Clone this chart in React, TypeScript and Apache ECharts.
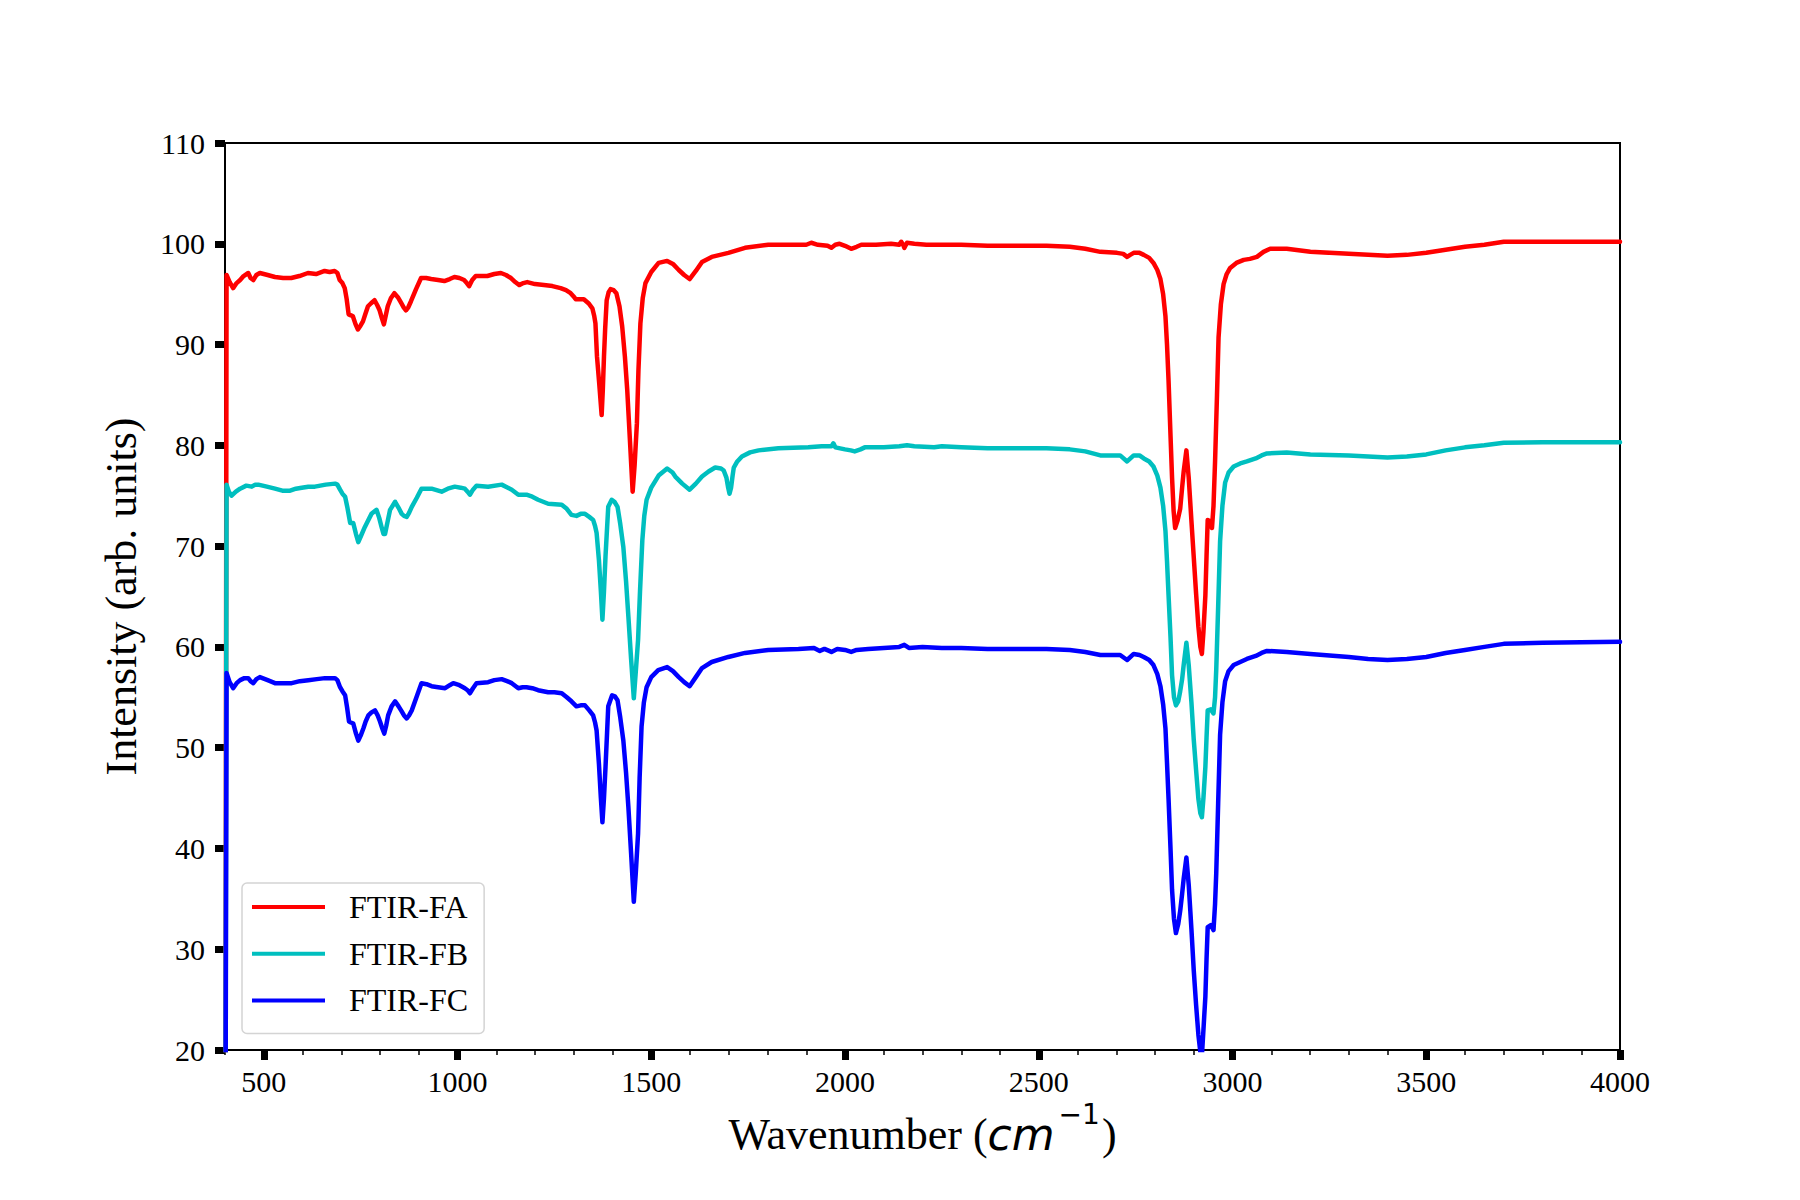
import React, { useEffect, useRef } from "react";
import * as echarts from "echarts";

// FTIR spectra: [wavenumber (cm-1), intensity]
const faPoints: number[][] = [
  [401, 5], [404, 96.9], [412, 96.2], [421, 95.6], [430, 96.1], [439, 96.4], [448, 96.8], [460, 97.1],
  [466, 96.6], [473, 96.4], [481, 96.9], [490, 97.1], [510, 96.9], [529, 96.7], [550, 96.6], [571, 96.6],
  [592, 96.8], [614, 97.1], [635, 97.0], [657, 97.3], [670, 97.2], [683, 97.3], [690, 97.1], [696, 96.4],
  [703, 96.1], [709, 95.6], [714, 94.5], [719, 93.0], [725, 92.9], [730, 92.8], [737, 92.0], [743, 91.5],
  [750, 91.9], [756, 92.3], [762, 93.0], [769, 93.8], [777, 94.1], [786, 94.4], [793, 93.9], [799, 93.4],
  [805, 92.6], [810, 92.0], [815, 92.9], [820, 93.8], [828, 94.6], [837, 95.1], [846, 94.7], [855, 94.1],
  [861, 93.7], [867, 93.4], [873, 93.7], [880, 94.3], [893, 95.5], [906, 96.6], [919, 96.6], [932, 96.5],
  [950, 96.4], [966, 96.3], [980, 96.5], [992, 96.7], [1005, 96.6], [1017, 96.4], [1024, 96.1], [1030, 95.8],
  [1038, 96.4], [1047, 96.8], [1062, 96.8], [1077, 96.8], [1095, 97.0], [1112, 97.1], [1125, 96.9], [1138, 96.6],
  [1149, 96.2], [1159, 95.9], [1170, 96.1], [1180, 96.2], [1200, 96.0], [1223, 95.9], [1245, 95.8], [1266, 95.6],
  [1280, 95.4], [1292, 95.1], [1299, 94.8], [1305, 94.5], [1315, 94.5], [1326, 94.5], [1338, 94.1], [1348, 93.6],
  [1353, 92.8], [1356, 92.1], [1360, 88.8], [1366, 86.0], [1372, 83.0], [1375, 85.5], [1378, 88.8], [1381, 91.5],
  [1385, 94.4], [1390, 95.2], [1395, 95.5], [1403, 95.4], [1410, 95.1], [1418, 93.8], [1425, 91.8], [1432, 88.8],
  [1438, 85.5], [1445, 80.5], [1452, 75.4], [1457, 78.0], [1463, 82.2], [1467, 87.5], [1472, 92.1], [1478, 94.6],
  [1485, 96.1], [1500, 97.2], [1519, 98.1], [1541, 98.3], [1556, 98.0], [1571, 97.4], [1585, 96.9], [1599, 96.5],
  [1615, 97.3], [1631, 98.2], [1656, 98.7], [1699, 99.1], [1742, 99.6], [1802, 99.9], [1862, 99.9], [1900, 99.9],
  [1913, 100.1], [1930, 99.9], [1955, 99.8], [1965, 99.6], [1975, 99.9], [1986, 100.0], [2000, 99.8], [2016, 99.5],
  [2030, 99.7], [2042, 99.9], [2080, 99.9], [2119, 100.0], [2140, 99.9], [2145, 100.2], [2150, 99.9], [2153, 99.6],
  [2160, 100.1], [2179, 100.0], [2210, 99.9], [2248, 99.9], [2300, 99.9], [2368, 99.8], [2450, 99.8], [2520, 99.8],
  [2580, 99.7], [2620, 99.5], [2659, 99.2], [2702, 99.1], [2718, 99.0], [2728, 98.7], [2736, 98.9], [2745, 99.1],
  [2760, 99.1], [2771, 98.9], [2785, 98.6], [2796, 98.1], [2806, 97.4], [2814, 96.5], [2821, 95.0], [2827, 92.8],
  [2831, 90.0], [2835, 86.4], [2840, 81.0], [2844, 76.8], [2848, 73.5], [2852, 71.8], [2858, 72.5], [2865, 73.7],
  [2870, 75.8], [2874, 77.4], [2881, 79.5], [2887, 76.8], [2894, 72.5], [2900, 68.9], [2906, 65.3], [2912, 62.0],
  [2917, 60.0], [2921, 59.3], [2925, 61.5], [2930, 65.1], [2933, 69.0], [2936, 72.6], [2941, 72.5], [2947, 71.8],
  [2951, 74.0], [2955, 78.4], [2960, 85.0], [2964, 90.7], [2970, 94.0], [2977, 96.0], [2985, 97.0], [2994, 97.6],
  [3010, 98.1], [3029, 98.4], [3045, 98.5], [3063, 98.7], [3080, 99.2], [3097, 99.5], [3140, 99.5], [3201, 99.2],
  [3300, 99.0], [3350, 98.9], [3400, 98.8], [3450, 98.9], [3500, 99.1], [3550, 99.4], [3600, 99.7], [3650, 99.9],
  [3700, 100.2], [3800, 100.2], [3900, 100.2], [4000, 100.2],
];

const fbPoints: number[][] = [
  [401, 5], [404, 76.1], [410, 75.4], [417, 75.0], [428, 75.4], [439, 75.7], [455, 76.0], [469, 75.9],
  [478, 76.1], [486, 76.1], [508, 75.9], [529, 75.7], [548, 75.5], [568, 75.5], [583, 75.7], [598, 75.8],
  [615, 75.9], [632, 75.9], [660, 76.1], [684, 76.2], [690, 76.1], [697, 75.6], [703, 75.2], [710, 74.9],
  [716, 73.8], [723, 72.3], [731, 72.3], [738, 71.2], [744, 70.4], [752, 71.1], [761, 71.9], [770, 72.6],
  [778, 73.2], [791, 73.6], [798, 72.8], [804, 71.9], [809, 71.2], [813, 71.2], [820, 72.5], [826, 73.6],
  [839, 74.4], [848, 73.8], [856, 73.2], [862, 73.0], [869, 72.9], [875, 73.3], [882, 73.9], [895, 74.8],
  [907, 75.7], [933, 75.7], [959, 75.4], [975, 75.7], [993, 75.9], [1008, 75.8], [1019, 75.7], [1026, 75.4],
  [1032, 75.1], [1040, 75.6], [1049, 76.0], [1079, 75.9], [1114, 76.1], [1130, 75.8], [1140, 75.6], [1157, 75.1],
  [1178, 75.1], [1193, 74.9], [1208, 74.6], [1234, 74.2], [1269, 74.1], [1282, 73.7], [1294, 73.1], [1307, 73.0],
  [1318, 73.2], [1329, 73.2], [1340, 72.9], [1350, 72.6], [1355, 72.0], [1359, 71.3], [1365, 68.6], [1370, 65.5],
  [1374, 62.7], [1378, 65.5], [1382, 69.0], [1386, 71.8], [1389, 73.9], [1398, 74.6], [1405, 74.4], [1413, 73.9],
  [1420, 72.2], [1428, 69.9], [1435, 66.5], [1441, 63.0], [1448, 58.8], [1455, 54.9], [1460, 57.5], [1466, 60.7],
  [1471, 65.5], [1477, 70.6], [1482, 73.0], [1488, 74.6], [1500, 75.8], [1519, 77.0], [1541, 77.7], [1555, 77.3],
  [1562, 76.9], [1580, 76.2], [1599, 75.6], [1615, 76.2], [1631, 76.9], [1648, 77.4], [1665, 77.8], [1680, 77.7],
  [1687, 77.5], [1694, 76.8], [1698, 75.9], [1702, 75.2], [1706, 75.8], [1710, 77.0], [1713, 77.8], [1722, 78.4],
  [1734, 78.9], [1755, 79.3], [1777, 79.5], [1828, 79.7], [1905, 79.8], [1940, 79.9], [1965, 79.9], [1970, 80.2],
  [1975, 79.8], [2000, 79.6], [2015, 79.5], [2025, 79.4], [2040, 79.6], [2051, 79.8], [2100, 79.8], [2140, 79.9],
  [2160, 80.0], [2179, 79.9], [2230, 79.8], [2250, 79.9], [2300, 79.8], [2368, 79.7], [2450, 79.7], [2520, 79.7],
  [2580, 79.6], [2620, 79.4], [2659, 79.0], [2710, 79.0], [2728, 78.4], [2745, 79.0], [2760, 79.0], [2771, 78.7],
  [2785, 78.4], [2796, 77.9], [2806, 77.0], [2814, 75.8], [2821, 74.0], [2827, 71.5], [2831, 68.5], [2835, 65.1],
  [2840, 61.0], [2844, 57.2], [2849, 55.0], [2854, 54.2], [2860, 54.6], [2865, 55.6], [2870, 56.8], [2874, 58.2],
  [2881, 60.4], [2887, 58.2], [2894, 54.5], [2900, 50.8], [2906, 47.8], [2912, 44.9], [2917, 43.5], [2921, 43.1],
  [2925, 45.0], [2930, 48.1], [2933, 51.0], [2936, 53.7], [2944, 53.8], [2951, 53.4], [2955, 55.0], [2958, 57.7],
  [2963, 64.0], [2968, 70.5], [2974, 74.0], [2981, 76.3], [2990, 77.3], [3003, 77.9], [3020, 78.2], [3037, 78.4],
  [3060, 78.7], [3075, 79.0], [3089, 79.2], [3140, 79.3], [3201, 79.1], [3300, 79.0], [3350, 78.9], [3400, 78.8],
  [3450, 78.9], [3500, 79.1], [3550, 79.5], [3600, 79.8], [3650, 80.0], [3700, 80.25], [3800, 80.3], [3900, 80.3],
  [4000, 80.3],
];

const fcPoints: number[][] = [
  [401, 5], [404, 57.4], [412, 56.5], [421, 55.9], [430, 56.4], [439, 56.7], [450, 56.9], [460, 56.9],
  [466, 56.6], [473, 56.4], [481, 56.8], [490, 57.0], [510, 56.7], [529, 56.4], [550, 56.4], [572, 56.4],
  [593, 56.6], [615, 56.7], [637, 56.8], [658, 56.9], [684, 56.9], [690, 56.7], [697, 56.0], [703, 55.6],
  [710, 55.2], [715, 54.0], [720, 52.6], [725, 52.5], [731, 52.4], [738, 51.4], [744, 50.7], [750, 51.2],
  [757, 51.9], [763, 52.6], [770, 53.2], [778, 53.5], [787, 53.7], [794, 53.2], [800, 52.6], [806, 51.9],
  [811, 51.4], [816, 52.2], [821, 53.2], [830, 54.1], [839, 54.6], [848, 54.1], [856, 53.6], [862, 53.2],
  [869, 52.9], [875, 53.2], [882, 53.7], [895, 55.1], [907, 56.4], [920, 56.3], [933, 56.1], [950, 56.0],
  [968, 55.9], [980, 56.2], [989, 56.4], [1005, 56.2], [1019, 55.9], [1026, 55.7], [1032, 55.4], [1040, 55.9],
  [1049, 56.4], [1079, 56.5], [1095, 56.7], [1114, 56.8], [1128, 56.6], [1140, 56.4], [1157, 55.9], [1168, 56.0],
  [1178, 56.0], [1193, 55.9], [1208, 55.7], [1234, 55.5], [1250, 55.5], [1269, 55.4], [1282, 55.0], [1294, 54.6],
  [1307, 54.1], [1318, 54.2], [1329, 54.2], [1340, 53.7], [1350, 53.2], [1355, 52.5], [1359, 51.7], [1365, 48.4],
  [1370, 45.0], [1374, 42.6], [1378, 45.0], [1382, 48.1], [1386, 51.5], [1389, 54.1], [1399, 55.2], [1406, 55.1],
  [1413, 54.7], [1420, 53.0], [1428, 50.7], [1435, 47.5], [1441, 44.1], [1448, 39.5], [1455, 34.7], [1460, 37.5],
  [1466, 41.5], [1470, 47.0], [1475, 52.1], [1481, 54.5], [1488, 56.0], [1500, 57.0], [1518, 57.7], [1541, 58.0],
  [1556, 57.6], [1571, 57.0], [1585, 56.5], [1599, 56.1], [1615, 57.0], [1631, 57.9], [1656, 58.5], [1699, 59.0],
  [1742, 59.4], [1802, 59.7], [1880, 59.8], [1920, 59.9], [1935, 59.6], [1947, 59.8], [1965, 59.5], [1980, 59.8],
  [2000, 59.7], [2016, 59.5], [2030, 59.7], [2060, 59.8], [2100, 59.9], [2140, 60.0], [2153, 60.2], [2165, 59.9],
  [2200, 60.0], [2250, 59.9], [2300, 59.9], [2368, 59.8], [2450, 59.8], [2520, 59.8], [2580, 59.7], [2620, 59.5],
  [2659, 59.2], [2710, 59.2], [2728, 58.7], [2745, 59.3], [2760, 59.2], [2771, 59.0], [2785, 58.7], [2796, 58.2],
  [2806, 57.3], [2814, 56.1], [2821, 54.3], [2827, 51.9], [2831, 48.5], [2835, 44.9], [2840, 40.0], [2844, 35.9],
  [2849, 33.0], [2854, 31.6], [2860, 32.5], [2865, 33.8], [2870, 35.5], [2874, 37.0], [2881, 39.1], [2887, 36.4],
  [2894, 32.0], [2900, 27.9], [2906, 24.5], [2912, 21.5], [2917, 19.8], [2921, 19.4], [2925, 22.0], [2930, 25.3],
  [2933, 29.0], [2936, 32.2], [2944, 32.4], [2951, 31.9], [2955, 34.5], [2958, 37.5], [2963, 44.5], [2968, 51.3],
  [2974, 54.5], [2981, 56.6], [2990, 57.6], [3003, 58.2], [3020, 58.5], [3037, 58.8], [3060, 59.1], [3075, 59.4],
  [3089, 59.6], [3140, 59.5], [3201, 59.3], [3300, 59.0], [3350, 58.8], [3400, 58.7], [3450, 58.8], [3500, 59.0],
  [3550, 59.4], [3600, 59.7], [3650, 60.0], [3700, 60.3], [3800, 60.4], [3900, 60.45], [4000, 60.5],
];

const seriesNames = ["FTIR-FA", "FTIR-FB", "FTIR-FC"];
const seriesColors = ["#ff0000", "#00bfbf", "#0000ff"];
const xMajorTicks = [500, 1000, 1500, 2000, 2500, 3000, 3500, 4000];

const SERIF = "'Liberation Serif', 'Times New Roman', serif";

const FtirChart: React.FC = () => {
  const chartRef = useRef<HTMLDivElement>(null);

  useEffect(() => {
    if (!chartRef.current) return;
    const chart = echarts.init(chartRef.current, null, { renderer: "svg" });

    const allPoints = [faPoints, fbPoints, fcPoints];

    chart.setOption({
      animation: false,
      backgroundColor: "#ffffff",
      grid: {
        left: 225,
        right: 180,
        top: 143,
        bottom: 150,
        show: true,
        borderColor: "#000",
        borderWidth: 2,
        backgroundColor: "transparent",
      },
      legend: {
        orient: "vertical",
        left: 242,
        top: 883,
        icon: "rect",
        itemWidth: 73,
        itemHeight: 4,
        itemGap: 10.7,
        selectedMode: false,
        data: seriesNames,
        backgroundColor: "#ffffff",
        borderColor: "#d4d4d4",
        borderWidth: 1.5,
        borderRadius: 5,
        padding: [6, 16, 15, 10],
        textStyle: {
          fontFamily: SERIF,
          fontSize: 32,
          color: "#000",
          lineHeight: 36,
          padding: [0, 0, 0, 19],
        },
      },
      xAxis: [
        {
          type: "value",
          min: 400,
          max: 4000,
          nameLocation: "middle",
          nameGap: 56,
          nameMoveOverlap: false,
          name: "{a|Wavenumber (}{b|cm}{c|\u22121}{a|)}",
          nameTextStyle: {
            rich: {
              a: { fontFamily: SERIF, fontSize: 44, color: "#000", lineHeight: 50, verticalAlign: "bottom" },
              b: {
                fontFamily: "'DejaVu Sans'",
                fontStyle: "italic",
                fontSize: 44,
                color: "#000",
                lineHeight: 50,
                verticalAlign: "bottom",
              },
              c: {
                fontFamily: "'DejaVu Sans'",
                fontSize: 28,
                color: "#000",
                lineHeight: 28,
                padding: [0, 2, 28, 4],
                verticalAlign: "bottom",
              },
            },
          },
          axisLine: { show: false },
          splitLine: { show: false },
          axisTick: {
            show: true,
            inside: false,
            length: 10,
            customValues: xMajorTicks,
            lineStyle: { color: "#000", width: 7 },
          },
          axisLabel: {
            customValues: xMajorTicks,
            formatter: (v: number) => String(v),
            margin: 16,
            fontFamily: SERIF,
            fontSize: 30,
            color: "#000",
          },
        },
        {
          // minor ticks every 100 cm-1
          type: "value",
          min: 400,
          max: 4000,
          interval: 100,
          position: "bottom",
          axisLine: { show: false },
          splitLine: { show: false },
          axisLabel: { show: false },
          axisTick: { show: true, length: 5, lineStyle: { color: "#000", width: 1.5 } },
        },
      ],
      yAxis: {
        type: "value",
        min: 20,
        max: 110,
        interval: 10,
        name: "Intensity (arb. units)",
        nameLocation: "middle",
        nameRotate: 90,
        nameGap: 82,
        nameMoveOverlap: false,
        nameTextStyle: { fontFamily: SERIF, fontSize: 44, color: "#000" },
        axisLine: { show: false },
        splitLine: { show: false },
        axisTick: { show: true, length: 10, lineStyle: { color: "#000", width: 7 } },
        axisLabel: { margin: 20, fontFamily: SERIF, fontSize: 30, color: "#000" },
      },
      series: seriesNames.map((name, i) => ({
        name,
        type: "line",
        xAxisIndex: 0,
        data: allPoints[i],
        showSymbol: false,
        symbol: "none",
        clip: true,
        color: seriesColors[i],
        lineStyle: { color: seriesColors[i], width: 4.5, join: "round", cap: "round" },
        z: 2 + i,
      })),
    });

    return () => {
      chart.dispose();
    };
  }, []);

  return (
    <div
      ref={chartRef}
      style={{ position: "absolute", left: 0, top: 0, width: 1800, height: 1200 }}
    />
  );
};

export default function App() {
  return <FtirChart />;
}
